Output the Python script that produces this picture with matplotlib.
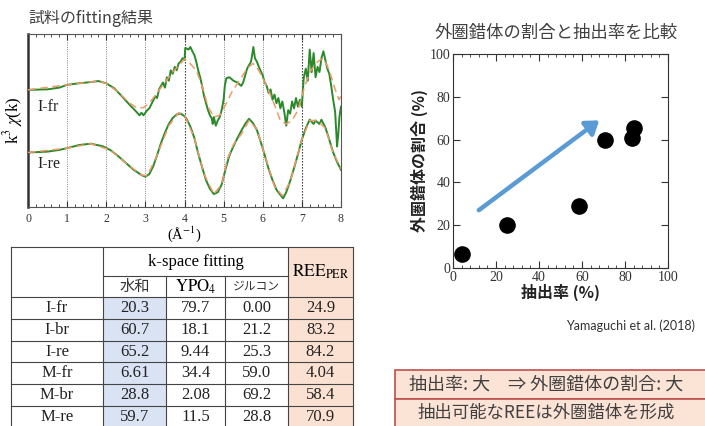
import matplotlib
matplotlib.use("Agg")
import matplotlib.pyplot as plt
from matplotlib.patches import Rectangle, FancyArrowPatch
from matplotlib.ticker import MultipleLocator

plt.rcParams["font.family"] = ["Liberation Serif", "DejaVu Serif"]
plt.rcParams["mathtext.fontset"] = "stix"
JP = ["Noto Sans CJK JP", "DejaVu Sans"]
SERIF = ["Liberation Serif", "DejaVu Serif"]

# k^3 chi(k) spectra (offset, arbitrary units)
ifr_k = [0.0, 0.5, 0.8, 1.0, 1.3, 1.6, 1.8, 2.0, 2.2, 2.4, 2.6, 2.75, 2.85, 2.9, 2.95, 3.0,
         3.05, 3.1, 3.2, 3.25, 3.3, 3.35, 3.4, 3.45, 3.5, 3.55, 3.6, 3.65, 3.7, 3.75, 3.8,
         3.85, 3.9, 3.95, 4.0, 4.02, 4.1, 4.15, 4.2, 4.25, 4.3, 4.35, 4.4, 4.45, 4.5, 4.55,
         4.6, 4.65, 4.7, 4.72, 4.75, 4.8, 4.85, 4.9, 4.95, 5.0, 5.03, 5.07, 5.15, 5.25, 5.35,
         5.45, 5.5, 5.6, 5.7, 5.73, 5.76, 5.8, 5.85, 5.9, 6.0, 6.05, 6.1, 6.15, 6.2, 6.25,
         6.3, 6.35, 6.4, 6.45, 6.5, 6.55, 6.6, 6.65, 6.7, 6.75, 6.8, 6.85, 6.9, 6.95, 7.0,
         7.02, 7.05, 7.1, 7.15, 7.2, 7.25, 7.3, 7.35, 7.4, 7.45, 7.5, 7.55, 7.6, 7.65, 7.7,
         7.75, 7.8, 7.85, 7.9, 7.93, 7.96, 8.0]
ifr_v = [67.7, 68.0, 69.0, 70.6, 71.5, 72.2, 72.8, 71.5, 68.7, 64.0, 59.0, 55.5, 53.0, 54.5,
         53.0, 54.5, 56.0, 57.0, 61.5, 64, 63, 68, 70, 72, 69, 75, 73, 79, 77, 81, 79,
         83, 84, 86, 85, 92, 91, 92.5, 90, 88, 84, 79, 75, 70, 64, 60,
         56, 53, 51, 48, 52, 47, 50, 52, 56, 62, 70, 74.5, 75, 73, 72,
         70, 72, 80, 84, 88, 92.5, 86, 84, 81, 76, 72, 70, 66, 68, 62,
         65, 60, 63, 57, 61, 55, 47, 56, 54, 61, 57, 63, 58, 62, 58,
         66, 75, 80, 73, 91, 78, 89, 75, 81, 78, 86, 90, 85, 80, 77,
         70, 62, 55, 35, 42, 52, 58]

ire_k = [0.0, 0.5, 0.8, 1.0, 1.3, 1.6, 1.9, 2.1, 2.3, 2.5, 2.7, 2.9, 3.0, 3.1, 3.2, 3.3,
         3.4, 3.5, 3.6, 3.7, 3.8, 3.9, 4.0, 4.05, 4.15, 4.25, 4.35, 4.45, 4.55, 4.65, 4.75,
         4.85, 4.95, 5.05, 5.15, 5.3, 5.45, 5.55, 5.65, 5.75, 5.85, 5.95, 6.05, 6.15, 6.25,
         6.35, 6.45, 6.52, 6.6, 6.7, 6.8, 6.9, 7.0, 7.1, 7.2, 7.3, 7.35, 7.45, 7.5, 7.6,
         7.7, 7.8, 7.9, 8.0]
ire_v = [31.5, 32.0, 33.0, 34.0, 35.8, 36.6, 35.2, 33.0, 29.5, 25.5, 21.5, 18.5, 17.5, 19.0,
         23.5, 30.0, 37.0, 43.0, 48.0, 51.5, 53.5, 54.0, 52.5, 51.0, 46.5, 40.0, 31.0, 23.0,
         15.5, 10.5, 7.5, 8.5, 13.0, 22.0, 30.0, 37.5, 44.0, 48.0, 51.0, 48.5, 44.5, 37.5,
         30.0, 22.0, 15.5, 10.0, 7.0, 5.0, 8.5, 15.0, 22.5, 30.5, 39.0, 45.5, 50.5, 48.0,
         50.0, 48.0, 50.5, 46.0, 39.0, 31.5, 26.0, 21.5]

# fitted curves
fit_fr_k = [0.0, 1.0, 1.8, 2.0, 2.3, 2.6, 2.8, 2.95, 3.1, 3.3, 3.5, 3.7, 3.9, 4.0, 4.1, 4.3,
            4.45, 4.6, 4.75, 4.9, 5.0, 5.2, 5.4, 5.6, 5.75, 5.9, 6.1, 6.3, 6.45, 6.6, 6.75,
            6.9, 7.05, 7.2, 7.4, 7.55, 7.7, 7.85, 7.95, 8.0]
fit_fr_v = [67.7, 70.6, 72.8, 71.5, 66.5, 60, 57, 57.5, 60, 66, 72, 78, 83, 85.5, 84, 79,
            70, 58, 52, 53, 57, 66, 73, 80, 83, 79, 70, 59, 50, 48, 50,
            56, 68, 78, 84, 86, 79, 68, 62, 64]
fit_re_k = [0.0, 1.0, 1.6, 2.1, 2.5, 2.9, 3.05, 3.3, 3.6, 3.85, 4.0, 4.25, 4.5, 4.75, 4.95,
            5.1, 5.25, 5.45, 5.65, 5.85, 6.05, 6.3, 6.5, 6.7, 7.0, 7.2, 7.4, 7.6, 7.8, 8.0]
fit_re_v = [31.5, 34, 36.6, 33, 25.5, 18.5, 18, 30, 47, 54.5, 53, 40, 19, 7.5, 13,
            28, 36, 42, 50, 45, 30, 12, 6.5, 14.5, 39, 50, 50, 45.5, 31.5, 22]

# table
samples = ["I-fr", "I-br", "I-re", "M-fr", "M-br", "M-re"]
hydrate = ["20.3", "60.7", "65.2", "6.61", "28.8", "59.7"]
ypo4 = ["79.7", "18.1", "9.44", "34.4", "2.08", "11.5"]
zircon = ["0.00", "21.2", "25.3", "59.0", "69.2", "28.8"]
ree_per = ["24.9", "83.2", "84.2", "4.04", "58.4", "70.9"]

# scatter: extraction rate vs outer-sphere fraction
extraction = [4.04, 24.9, 58.4, 70.9, 83.2, 84.2]
outer_frac = [6.61, 20.3, 28.8, 59.7, 60.7, 65.2]

W, H = 705, 426
fig = plt.figure(figsize=(W / 100, H / 100), dpi=100)


def box(l, t, r, b):
    return [l / W, 1 - b / H, (r - l) / W, (b - t) / H]


# ---- EXAFS panel ----
ax = fig.add_axes(box(28, 34, 341, 207))
green = "#2a8a2a"
ax.plot(fit_fr_k, fit_fr_v, color="#ee9a6a", lw=1.1, ls=(0, (5, 3)), zorder=3)
ax.plot(fit_re_k, fit_re_v, color="#ee9a6a", lw=1.1, ls=(0, (5, 3)), zorder=3)
ax.plot(ifr_k, ifr_v, color=green, lw=1.4, zorder=2)
ax.plot(ire_k, ire_v, color=green, lw=1.4, zorder=2)
for k in range(1, 8):
    dark = k in (4, 7)
    ax.axvline(k, color="#222222" if dark else "#777777", lw=0.8 if dark else 0.6,
               ls=(0, (1.2, 1.5)), zorder=1)
ax.set_xlim(0, 8)
ax.set_ylim(0, 100)
ax.xaxis.set_major_locator(MultipleLocator(1))
ax.xaxis.set_minor_locator(MultipleLocator(0.2))
ax.set_yticks([])
ax.tick_params(axis="x", which="both", direction="in", top=True, labelsize=8.5, pad=4,
               colors="#333333")
ax.tick_params(axis="x", which="major", length=4)
ax.tick_params(axis="x", which="minor", length=2.5)
for s in ax.spines.values():
    s.set_color("#555555")
    s.set_linewidth(0.8)
ax.spines["left"].set_linewidth(1.8)
ax.spines["left"].set_color("#333333")
ax.text(0.25, 58, "I-fr", fontsize=11.5, va="center", color="#222222")
ax.text(0.25, 25, "I-re", fontsize=11.5, va="center", color="#222222")
ax.set_ylabel(r"k$^3$ $\chi$(k)", fontsize=12, labelpad=2)
ax.set_xlabel("(Å$^{-1}$)", fontsize=10.5, labelpad=0)
fig.text(28 / W, 1 - 18 / H, "試料のfitting結果", family=JP, fontsize=11.5,
         color="#404040", va="center", ha="left")

# ---- table ----
tab = fig.add_axes([0, 0, 1, 1], zorder=-1)
tab.set_xlim(0, W)
tab.set_ylim(H, 0)
tab.axis("off")
cols = [11, 103, 166, 225, 288, 353]
top, mid, hdr = 247, 276, 297
rh = 21.8
rows = [hdr + i * rh for i in range(len(samples) + 1)]
tab.add_patch(Rectangle((cols[1], hdr), cols[2] - cols[1], rows[-1] - hdr,
                        color="#dae3f3", lw=0))
tab.add_patch(Rectangle((cols[4], top), cols[5] - cols[4], rows[-1] - top,
                        color="#fbe1d2", lw=0))
lc = "#444444"
tab.plot([cols[0], cols[5]], [top, top], color=lc, lw=0.8)
tab.plot([cols[1], cols[4]], [mid, mid], color=lc, lw=0.8)
for y in rows:
    tab.plot([cols[0], cols[5]], [y, y], color=lc, lw=0.8)
for x in (cols[0], cols[1], cols[4], cols[5]):
    tab.plot([x, x], [top, rows[-1]], color=lc, lw=0.8)
for x in (cols[2], cols[3]):
    tab.plot([x, x], [mid, rows[-1]], color=lc, lw=0.8)

tab.text((cols[1] + cols[4]) / 2, (top + mid) / 2 + 1, "k-space fitting",
         fontsize=12, ha="center", va="center")
tab.text((cols[4] + cols[5]) / 2, (top + hdr) / 2, r"$\mathrm{REE_{PER}}$",
         fontsize=12.5, ha="center", va="center")
tab.text((cols[1] + cols[2]) / 2, (mid + hdr) / 2, "水和", family=JP, fontsize=11,
         ha="center", va="center", color="#333333")
tab.text((cols[2] + cols[3]) / 2, (mid + hdr) / 2, r"$\mathrm{YPO_4}$", fontsize=12,
         ha="center", va="center")
tab.text((cols[3] + cols[4]) / 2, (mid + hdr) / 2, "ジルコン", family=JP, fontsize=8.5,
         ha="center", va="center", color="#333333")
for i, vals in enumerate(zip(samples, hydrate, ypo4, zircon, ree_per)):
    yc = (rows[i] + rows[i + 1]) / 2
    for j, v in enumerate(vals):
        tab.text((cols[j] + cols[j + 1]) / 2, yc, v, fontsize=12,
                 ha="center", va="center", color="#222222")

# ---- scatter panel ----
ax2 = fig.add_axes(box(453, 54, 668, 268))
ax2.scatter(extraction, outer_frac, s=120, color="black", zorder=3)
ax2.add_patch(FancyArrowPatch((12, 27), (68, 69), arrowstyle="-|>,head_length=5,head_width=3.5",
                              color="#5b9bd5", lw=3.2, mutation_scale=1.5,
                              shrinkA=0, shrinkB=0, zorder=2))
ax2.set_xlim(0, 100)
ax2.set_ylim(0, 100)
ax2.xaxis.set_major_locator(MultipleLocator(20))
ax2.xaxis.set_minor_locator(MultipleLocator(4))
ax2.yaxis.set_major_locator(MultipleLocator(20))
ax2.tick_params(which="both", direction="in", top=True, right=True, labelsize=10, pad=2,
                colors="#333333")
ax2.tick_params(which="major", length=5)
ax2.tick_params(which="minor", length=2.5)
for s in ax2.spines.values():
    s.set_linewidth(0.8)
    s.set_color("#333333")
ax2.set_xlabel("抽出率 (%)", family=JP, fontsize=11.5, fontweight="bold", labelpad=0,
               color="#222222")
ax2.set_ylabel("外圏錯体の割合 (%)", family=JP, fontsize=11.5, fontweight="bold",
               labelpad=1, color="#222222")
fig.text(556 / W, 1 - 33 / H, "外圏錯体の割合と抽出率を比較", family=JP, fontsize=12.5,
         color="#404040", ha="center", va="center")
fig.text(695 / W, 1 - 326 / H, "Yamaguchi et al. (2018)", family=["Lato", "DejaVu Sans"],
         fontsize=9, color="#333333", ha="right", va="center")

# ---- conclusion boxes ----
for (t, b), msg, fs in zip([(370, 399), (399, 430)],
                           ["抽出率: 大　⇒ 外圏錯体の割合: 大", "抽出可能なREEは外圏錯体を形成"],
                           [13, 12.5]):
    tab.add_patch(Rectangle((395, t), 320, b - t, facecolor="#fbe3d6",
                            edgecolor="#c0504d", lw=1.2))
    tab.text(546, (t + min(b, 426)) / 2, msg, family=JP, fontsize=fs, color="#404040",
             ha="center", va="center")

fig.savefig("out.png", dpi=100)
